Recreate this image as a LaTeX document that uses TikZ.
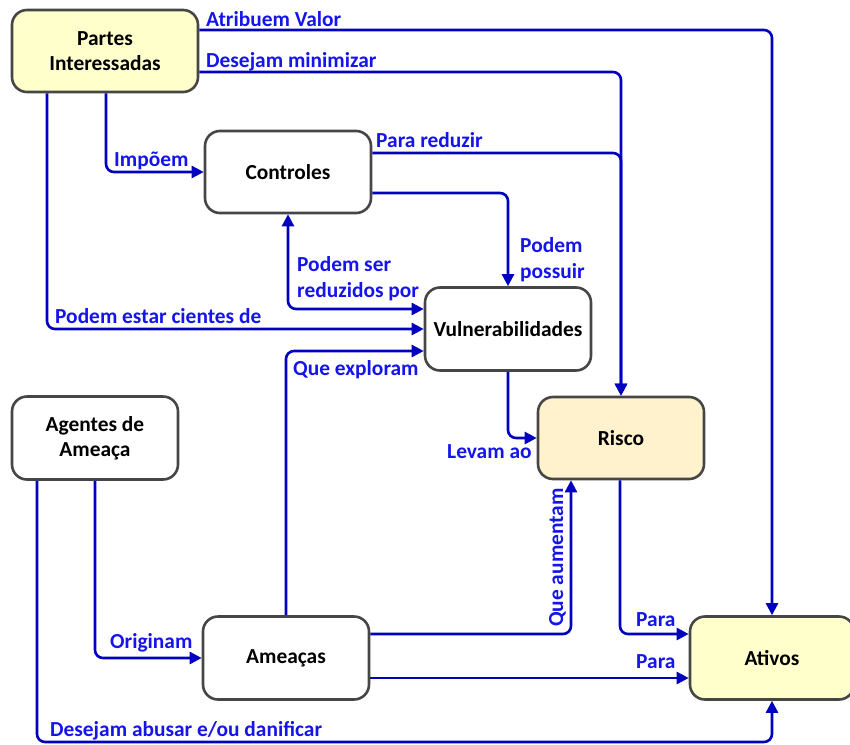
\documentclass[tikz,border=0pt]{standalone}
\usepackage{fontspec}
\setmainfont{Carlito}
\usetikzlibrary{arrows.meta}
\definecolor{lineblue}{RGB}{0,0,190}
\definecolor{textblue}{RGB}{20,20,235}
\definecolor{boxgray}{RGB}{70,70,70}
\definecolor{yel}{RGB}{255,255,204}
\definecolor{peach}{RGB}{255,242,204}
\tikzset{
  box/.style={draw=boxgray, line width=2.6pt, rounded corners=15pt, fill=white,
    minimum width=166pt, minimum height=82pt, align=center, inner sep=2pt,
    font=\fontsize{21.4}{25}\selectfont\bfseries, text=black},
  conn/.style={draw=lineblue, line width=2.6pt, rounded corners=8pt,
    -{Triangle[length=12pt,width=12pt]}},
  lbl/.style={text=textblue, anchor=base west, inner sep=0pt, align=left,
    font=\fontsize{21.4}{25.5}\selectfont\bfseries}
}
\begin{document}
\begin{tikzpicture}[x=1pt,y=-1pt]
\useasboundingbox (0,0) rectangle (850,744);

% concept boxes
\node[box, fill=yel, minimum width=186pt] (partes) at (105,51) {Partes\\Interessadas};
\node[box] (controles) at (288,172) {Controles};
\node[box, minimum height=83pt] (vuln) at (508,329) {Vulnerabilidades};
\node[box, minimum height=83pt] (agentes) at (95,438) {Agentes de\\Ameaça};
\node[box, fill=peach] (risco) at (621,438) {Risco};
\node[box, minimum height=83pt] (ameacas) at (286,658) {Ameaças};
\node[box, fill=yel, minimum width=164pt, minimum height=83pt] (ativos) at (772,658) {Ativos};

\coordinate (botline) at (400,742);

% relations
\draw[conn] ([yshift=21pt]partes.east) -| (ativos.north);
\draw[conn] ([yshift=-21pt]partes.east) -| (risco.north);
\draw[conn] ([yshift=19pt]controles.east) -| (risco.north);
\draw[conn] ([yshift=-21pt]controles.east) -| (vuln.north);
\draw[conn, {Triangle[length=12pt,width=12pt]}-{Triangle[length=12pt,width=12pt]}]
  (controles.south) |- ([yshift=20pt]vuln.west);
\draw[conn] ([xshift=-58pt]partes.south) |- (vuln.west);
\draw[conn] ([xshift=1pt]partes.south) |- (controles.west);
\draw[conn] (ameacas.north) |- ([yshift=-22pt]vuln.west);
\draw[conn] (vuln.south) |- (risco.west);
\draw[conn] ([yshift=24pt]ameacas.east) -| ([xshift=-50pt]risco.south);
\draw[conn] ([xshift=-1pt]risco.south) |- ([yshift=24pt]ativos.west);
\draw[conn] ([yshift=-20pt]ameacas.east) -- ([yshift=-20pt]ativos.west);
\draw[conn] (agentes.south) |- (ameacas.west);
\draw[conn] ([xshift=-58pt]agentes.south) |- (botline) -| (ativos.south);

% relation labels (two-line labels are placed by their last baseline)
\node[lbl] (lAtrib) at (206,26) {Atribuem Valor};
\node[lbl] (lMin) at (206,67) {Desejam minimizar};
\node[lbl] (lImp) at (114,166) {Impõem};
\node[lbl] (lRed) at (376,147) {Para reduzir};
\node[lbl] (lPos) at (520,278) {Podem\\possuir};
\node[lbl] (lSer) at (297,297) {Podem ser\\reduzidos por};
\node[lbl] (lCie) at (55,323) {Podem estar cientes de};
\node[lbl] (lExp) at (293,375) {Que exploram};
\node[lbl] (lLev) at (447,458) {Levam ao};
\node[lbl, rotate=90] (lAum) at (563,627) {Que aumentam};
\node[lbl] (lPara1) at (636,626) {Para};
\node[lbl] (lPara2) at (636,668) {Para};
\node[lbl] (lOri) at (110,648) {Originam};
\node[lbl] (lAbu) at (50,736) {Desejam abusar e/ou danificar};
\end{tikzpicture}
\end{document}
